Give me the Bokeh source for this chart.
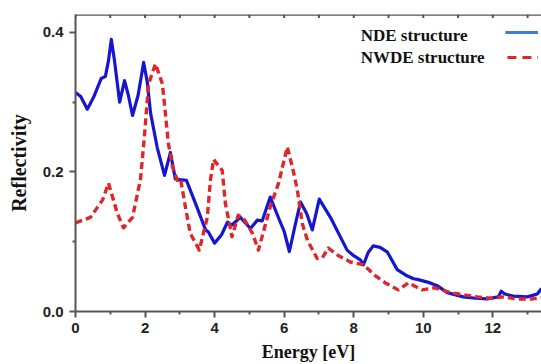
from bokeh.plotting import figure
from bokeh.models import FixedTicker, Label, Range1d, Span
from bokeh.embed import file_html
from bokeh.resources import INLINE

# NDE structure (solid blue)
nde_energy = [0.0, 0.15, 0.34, 0.52, 0.74, 0.86, 0.95, 1.03, 1.12, 1.27, 1.41, 1.52, 1.64, 1.8, 1.96,
              2.06, 2.16, 2.35, 2.56, 2.73, 2.87, 3.0, 3.19, 3.45, 3.74, 3.82, 4.0, 4.2, 4.37, 4.5,
              4.74, 5.03, 5.23, 5.37, 5.6, 5.84, 6.0, 6.15, 6.3, 6.47, 6.65, 6.81, 7.01, 7.33, 7.81,
              8.0, 8.19, 8.28, 8.42, 8.56, 8.76, 8.97, 9.25, 9.5, 9.72, 9.83, 10.2, 10.4, 10.69,
              11.15, 11.5, 11.84, 12.16, 12.24, 12.35, 12.59, 12.99, 13.28, 13.4]
nde_refl = [0.314, 0.308, 0.29, 0.307, 0.334, 0.337, 0.36, 0.39, 0.36, 0.30, 0.331, 0.31, 0.281, 0.31, 0.357,
            0.33, 0.284, 0.235, 0.195, 0.228, 0.19, 0.189, 0.188, 0.155, 0.117, 0.114, 0.098, 0.11, 0.128, 0.124,
            0.135, 0.119, 0.131, 0.13, 0.164, 0.134, 0.115, 0.086, 0.12, 0.157, 0.14, 0.117, 0.161, 0.135, 0.088,
            0.08, 0.074, 0.067, 0.085, 0.094, 0.092, 0.085, 0.06, 0.052, 0.047, 0.046, 0.041, 0.037, 0.027,
            0.021, 0.019, 0.018, 0.021, 0.029, 0.025, 0.022, 0.021, 0.025, 0.033]

# NWDE structure (dashed red)
nwde_energy = [0.0, 0.43, 0.78, 0.95, 1.2, 1.38, 1.64, 1.87, 1.98, 2.1, 2.3, 2.5, 2.67, 2.79, 2.93,
               3.02, 3.16, 3.3, 3.56, 3.79, 3.88, 3.97, 4.22, 4.31, 4.5, 4.68, 4.83, 5.09, 5.26, 5.6,
               5.84, 6.09, 6.26, 6.38, 6.52, 6.67, 6.95, 7.1, 7.27, 7.53, 7.9, 8.28, 8.6, 8.91, 9.28,
               9.57, 9.97, 10.34, 10.78, 11.15, 11.55, 11.93, 12.3, 12.7, 13.13, 13.4]
nwde_refl = [0.127, 0.135, 0.16, 0.184, 0.141, 0.12, 0.135, 0.19, 0.25, 0.326, 0.355, 0.326, 0.241, 0.207, 0.188,
             0.19, 0.15, 0.112, 0.088, 0.135, 0.188, 0.218, 0.202, 0.155, 0.107, 0.138, 0.134, 0.112, 0.088, 0.15,
             0.184, 0.236, 0.202, 0.174, 0.126, 0.102, 0.076, 0.077, 0.091, 0.081, 0.071, 0.067, 0.052, 0.041, 0.031,
             0.041, 0.031, 0.034, 0.027, 0.024, 0.021, 0.019, 0.021, 0.018, 0.018, 0.02]

x_ticks = [0, 2, 4, 6, 8, 10, 12]
x_minor = [1, 3, 5, 7, 9, 11, 13]
top_ticks = list(range(0, 14))
y_ticks = [0.0, 0.2, 0.4]
y_minor = [0.1, 0.3]
legend_names = ["NDE structure", "NWDE structure"]

BLUE = "#1616d0"
RED = "#e0262a"
AXIS = "#555555"
Y_TOP = 0.4257

p = figure(width=541, height=364, output_backend="svg", toolbar_location=None,
           x_range=Range1d(0, 13.4), y_range=Range1d(0, Y_TOP),
           min_border_left=75, min_border_right=0, min_border_top=14, min_border_bottom=52)
p.outline_line_color = None
p.grid.visible = False
p.background_fill_color = "white"
p.border_fill_color = "white"

p.line(nde_energy, nde_refl, line_color=BLUE, line_width=3.2, line_join="round")
p.line(nwde_energy, nwde_refl, line_color=RED, line_width=3.4, line_dash="7 4", line_join="round")

# axes styling
for ax in (p.xaxis[0], p.yaxis[0]):
    ax.axis_line_color = AXIS
    ax.axis_line_width = 2
    ax.major_tick_line_color = AXIS
    ax.minor_tick_line_color = AXIS
    ax.major_tick_line_width = 2
    ax.minor_tick_line_width = 2
    ax.major_tick_out = 6
    ax.major_tick_in = 0
    ax.minor_tick_out = 3
    ax.minor_tick_in = 0
    ax.major_label_text_font = "Liberation Sans"
    ax.major_label_text_font_style = "bold"
    ax.major_label_text_font_size = "15px"
    ax.major_label_text_color = "#222222"
    ax.axis_label_text_font = "Liberation Serif"
    ax.axis_label_text_font_style = "bold"
    ax.axis_label_text_color = "#111111"

p.xaxis[0].axis_label_text_font_size = "18px"
p.yaxis[0].axis_label_text_font_size = "20px"
p.xaxis[0].ticker = FixedTicker(ticks=x_ticks, minor_ticks=x_minor)
p.yaxis[0].ticker = FixedTicker(ticks=y_ticks, minor_ticks=y_minor)
p.yaxis[0].major_label_overrides = {0.0: "0.0", 0.2: "0.2", 0.4: "0.4"}
p.xaxis[0].axis_label = "Energy [eV]"
p.yaxis[0].axis_label = "Reflectivity"
p.xaxis[0].major_label_standoff = 5
p.xaxis[0].axis_label_standoff = 6
p.yaxis[0].major_label_standoff = 6
p.yaxis[0].axis_label_standoff = 10

# top frame line with small inward ticks
p.add_layout(Span(location=Y_TOP, dimension="width", line_color=AXIS, line_width=2.5))
p.segment(x0=top_ticks, x1=top_ticks, y0=[Y_TOP] * len(top_ticks), y1=[Y_TOP - 0.005] * len(top_ticks),
          line_color=AXIS, line_width=2)

# legend (text left, sample right)
p.add_layout(Label(x=8.2, y=0.396, text=legend_names[0], text_font="Liberation Serif",
                   text_font_style="bold", text_font_size="17px", text_baseline="middle",
                   text_color="#111111"))
p.add_layout(Label(x=8.2, y=0.364, text=legend_names[1], text_font="Liberation Serif",
                   text_font_style="bold", text_font_size="17px", text_baseline="middle",
                   text_color="#111111"))
p.line([12.36, 13.3], [0.4, 0.4], line_color="#3a7fd6", line_width=3)
p.line([12.42, 13.3], [0.364, 0.364], line_color=RED, line_width=3, line_dash="9 6")

open("out.html", "w").write(file_html(p, INLINE))
